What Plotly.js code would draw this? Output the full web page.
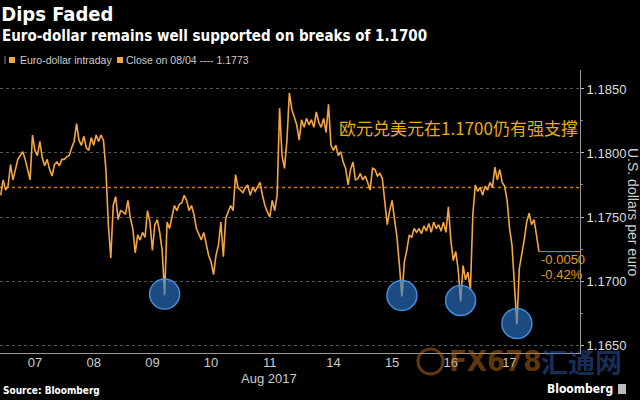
<!DOCTYPE html>
<html>
<head>
<meta charset="utf-8">
<script src="https://cdn.plot.ly/plotly-3.0.1.min.js"></script>
<style>
  html, body { margin: 0; padding: 0; background: #000; }
  #chart { width: 640px; height: 400px; }
</style>
</head>
<body>
<div id="chart"></div>
<script>
// ---- Data: EUR/USD intraday, hourly readings ----
const preOpen = [1.1767, 1.1779];
const aug07 = [1.1771, 1.1774, 1.1791, 1.1779, 1.1787, 1.1795, 1.1798, 1.1801, 1.1795, 1.1788, 1.1779, 1.1814,
               1.1802, 1.1798, 1.1809, 1.1796, 1.1790, 1.1795, 1.1787, 1.1782, 1.1791, 1.1793, 1.1790, 1.1795];
const aug08 = [1.1795, 1.1797, 1.1798, 1.1804, 1.1809, 1.1823, 1.1810, 1.1806, 1.1813, 1.1804, 1.1802, 1.1812,
               1.1806, 1.1814, 1.1809, 1.1814, 1.1810, 1.1787, 1.1744, 1.1718, 1.1759, 1.1766, 1.1748, 1.1755];
const aug09 = [1.1754, 1.1752, 1.1763, 1.1749, 1.1741, 1.1722, 1.1736, 1.1732, 1.1738, 1.1734, 1.1755, 1.1746,
               1.1724, 1.1744, 1.1748, 1.1738, 1.1724, 1.1689, 1.1746, 1.1741, 1.1749, 1.1759, 1.1755, 1.1760];
const aug10 = [1.1761, 1.1767, 1.1763, 1.1755, 1.1759, 1.1752, 1.1741, 1.1736, 1.1732, 1.1738, 1.1728, 1.1720,
               1.1715, 1.1705, 1.1720, 1.1728, 1.1746, 1.1719, 1.1749, 1.1754, 1.1759, 1.1755, 1.1783, 1.1773];
const aug11 = [1.1771, 1.1769, 1.1773, 1.1775, 1.1767, 1.1773, 1.1770, 1.1774, 1.1777, 1.1767, 1.1759, 1.1754,
               1.1750, 1.1763, 1.1755, 1.1767, 1.1835, 1.1798, 1.1788, 1.1810, 1.1847, 1.1834, 1.1827, 1.1822];
const aug14 = [1.1810, 1.1826, 1.1820, 1.1827, 1.1822, 1.1826, 1.1820, 1.1832, 1.1824, 1.1820, 1.1827, 1.1816,
               1.1838, 1.1806, 1.1802, 1.1806, 1.1798, 1.1801, 1.1793, 1.1788, 1.1775, 1.1787, 1.1793, 1.1779];
const aug15 = [1.1780, 1.1784, 1.1779, 1.1782, 1.1777, 1.1771, 1.1788, 1.1787, 1.1782, 1.1784, 1.1780, 1.1759,
               1.1744, 1.1755, 1.1763, 1.1748, 1.1734, 1.1712, 1.1688, 1.1715, 1.1724, 1.1736, 1.1734, 1.1741];
const aug16 = [1.1738, 1.1741, 1.1737, 1.1743, 1.1739, 1.1745, 1.1738, 1.1746, 1.1741, 1.1744, 1.1739, 1.1746,
               1.1738, 1.1758, 1.1732, 1.1716, 1.1723, 1.1709, 1.1684, 1.1712, 1.1701, 1.1707, 1.1693, 1.1752];
const aug17 = [1.1775, 1.1770, 1.1773, 1.1767, 1.1774, 1.1771, 1.1777, 1.1773, 1.1789, 1.1779, 1.1787, 1.1777,
               1.1774, 1.1763, 1.1741, 1.1728, 1.1701, 1.1666, 1.1710, 1.1720, 1.1732, 1.1746, 1.1753, 1.1744,
               1.1748, 1.1736, 1.1723];

const prevClose = 1.1773;          // close on 08/04
const dayLabels = ['07', '08', '09', '10', '11', '14', '15', '16', '17'];
const dayCenters = [12, 36, 60, 84, 108, 134, 158, 182, 206];   // hour index of each session's middle
const yTicks = [1.165, 1.170, 1.175, 1.180, 1.185];
const changeLabels = ['-0.0050', '-0.42%'];

// ---- Build series ----
const sessions = [aug07, aug08, aug09, aug10, aug11, aug14, aug15, aug16, aug17];
const prices = [].concat(preOpen, ...sessions);
const hours = prices.map((_, i) => i - preOpen.length);
const lastHour = hours[hours.length - 1];
const lastPrice = prices[prices.length - 1];

const starts = [];
sessions.reduce((h, a) => { starts.push(h); return h + a.length; }, 0);

// support lows: minimum of each of these sessions (09, 15, 16, 17)
const lowSessionIdx = [2, 6, 7, 8];
const lows = lowSessionIdx.map(si => {
  const a = sessions[si];
  let mi = 0;
  a.forEach((v, i) => { if (v < a[mi]) mi = i; });
  return { x: starts[si] + mi, y: a[mi] };
});

// ---- Geometry helpers (plot area: x 0..580, y 70..353 px) ----
const L = 0, W = 580, T = 70, B = 353, H = B - T;
const px = x => (x - L) / W;
const py = y => (B - y) / H;

const narrow = 'Liberation Sans Narrow, Arial Narrow, sans-serif';
const cond = 'DejaVu Sans Condensed, Liberation Sans Narrow, sans-serif';
const orange = '#f5a640';

const traces = [
  {
    x: hours, y: prices, type: 'scatter', mode: 'lines',
    line: { color: orange, width: 1.6 }, hoverinfo: 'skip', showlegend: false
  },
  {
    x: [lastHour, 240], y: [lastPrice, lastPrice], type: 'scatter', mode: 'lines',
    line: { color: '#c98a2a', width: 1 }, hoverinfo: 'skip', showlegend: false
  }
];

const shapes = [
  // previous close reference line
  { type: 'line', xref: 'paper', yref: 'y', x0: 0, x1: 1, y0: prevClose, y1: prevClose,
    line: { color: '#c47a0c', width: 1.6, dash: 'dot' }, layer: 'below' },
  // legend markers
  { type: 'line', xref: 'paper', yref: 'paper', x0: px(5), x1: px(5), y0: py(56), y1: py(64),
    line: { color: '#888', width: 1 } },
  { type: 'rect', xref: 'paper', yref: 'paper', x0: px(9), x1: px(15), y0: py(57), y1: py(63),
    fillcolor: orange, line: { width: 0 } },
  { type: 'rect', xref: 'paper', yref: 'paper', x0: px(117), x1: px(123), y0: py(57), y1: py(63),
    fillcolor: orange, line: { width: 0 } },
  // Bloomberg icon
  { type: 'rect', xref: 'paper', yref: 'paper', x0: px(618), x1: px(626), y0: py(394), y1: py(384),
    fillcolor: '#bbb', line: { width: 0 } },
  // watermark ring
  { type: 'circle', xref: 'paper', yref: 'paper', x0: px(418), x1: px(443), y0: py(374), y1: py(349),
    line: { color: 'rgba(200,110,30,0.5)', width: 3 }, fillcolor: 'rgba(0,0,0,0)' }
];
lows.forEach(p => shapes.push({
  type: 'circle', xref: 'x', yref: 'y', xsizemode: 'pixel', ysizemode: 'pixel',
  xanchor: p.x, yanchor: p.y, x0: -15, x1: 15, y0: -14, y1: 16,
  fillcolor: 'rgba(45,125,215,0.6)', line: { color: 'rgba(75,145,220,0.95)', width: 1.5 }
}));

const ann = (x, y, text, font, extra) => Object.assign({
  xref: 'paper', yref: 'paper', x: px(x), y: py(y), text: text, showarrow: false,
  xanchor: 'left', yanchor: 'middle', font: font
}, extra || {});

const annotations = [
  ann(0, 36, 'Euro-dollar remains well supported on breaks of 1.1700',
      { family: cond, size: 15, color: '#ffffff', weight: 'bold' }),
  ann(18, 60, 'Euro-dollar intraday', { family: narrow, size: 10.5, color: '#cccccc' }),
  ann(124, 60, 'Close on 08/04 ---- ' + prevClose.toFixed(4), { family: narrow, size: 10.5, color: '#cccccc' }),
  ann(580, 127, '欧元兑美元在1.1700仍有强支撑',
      { family: 'Noto Sans CJK SC, sans-serif', size: 17, color: '#e8ac12' }, { xanchor: 'right' }),
  ann(539, 259, changeLabels[0], { family: narrow, size: 13, color: '#e49a2c' }),
  ann(539, 274, changeLabels[1], { family: narrow, size: 13, color: '#e49a2c' }),
  ann(633, 212, 'U.S. dollars per euro', { family: 'Liberation Sans, sans-serif', size: 14, color: '#cccccc' },
      { textangle: 90, xanchor: 'center' }),
  ann(269, 378, 'Aug 2017', { family: narrow, size: 13, color: '#cccccc' }, { xanchor: 'center' }),
  ann(1, 390, 'Source: Bloomberg', { family: cond, size: 10, color: '#ffffff', weight: 'bold' }),
  ann(615, 389, 'Bloomberg', { family: cond, size: 12, color: '#ffffff', weight: 'bold' }, { xanchor: 'right' }),
  // watermark
  ann(447, 361, 'FX678', { family: cond, size: 29, color: 'rgba(190,110,25,0.5)', weight: 'bold' }),
  ann(539, 361, '汇通网', { family: 'Noto Sans CJK SC, sans-serif', size: 27, color: 'rgba(50,90,175,0.5)', weight: 'bold' })
];

const layout = {
  width: 640, height: 400,
  paper_bgcolor: '#000', plot_bgcolor: '#000',
  margin: { l: L, r: 640 - W, t: T, b: 400 - B, pad: 0 },
  title: { text: 'Dips Faded', x: 0.002, xanchor: 'left', xref: 'container', y: 1 - 14 / 400, yanchor: 'middle',
           font: { family: cond, size: 20, color: '#ffffff', weight: 'bold' } },
  showlegend: false,
  xaxis: {
    range: [-2.29, 234.8], tickvals: dayCenters, ticktext: dayLabels,
    showgrid: false, zeroline: false, showline: true, linecolor: '#9a9a9a', linewidth: 1,
    ticks: '', ticklabelstandoff: -3, tickfont: { family: narrow, size: 13, color: '#cccccc' }, fixedrange: true
  },
  yaxis: {
    side: 'right', range: [1.16438, 1.18648], tickvals: yTicks, tickformat: '.4f',
    showgrid: true, gridcolor: '#555', griddash: 'dot', gridwidth: 1,
    zeroline: false, showline: true, linecolor: '#9a9a9a', linewidth: 1,
    ticks: 'outside', ticklen: 3, tickcolor: '#bbb',
    minor: { dtick: 0.0025, tick0: 1.1625, ticks: 'outside', ticklen: 2, tickcolor: '#888', showgrid: false },
    tickfont: { family: narrow, size: 13, color: '#dddddd' }, fixedrange: true
  },
  shapes: shapes,
  annotations: annotations
};

Plotly.newPlot('chart', traces, layout, { staticPlot: true, displayModeBar: false });
</script>
</body>
</html>
